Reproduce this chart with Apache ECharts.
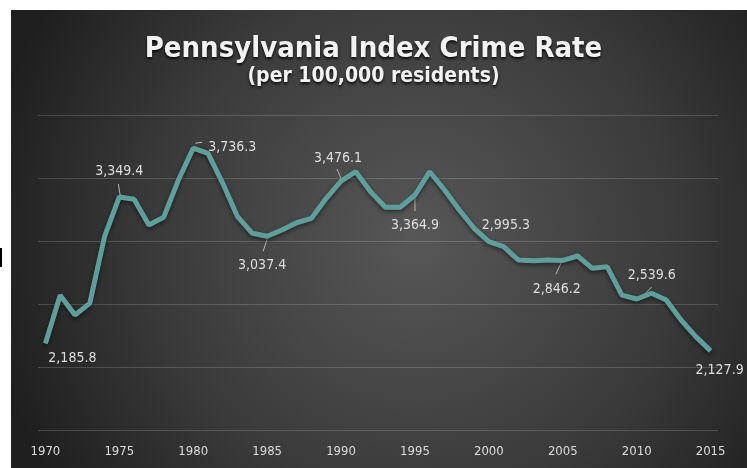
<!DOCTYPE html>
<html lang="en">
<head>
    <meta charset="UTF-8">
    <title>Pennsylvania Index Crime Rate</title>
    <script src="https://cdn.jsdelivr.net/npm/echarts@6/dist/echarts.min.js"></script>
    <style type="text/css">
        html, body { margin: 0; padding: 0; background: #fff; }
        #chart { width: 747px; height: 468px; }
    </style>
</head>
<body>
<div id="chart"></div>
<script type="text/javascript">
    var years = [1970, 1971, 1972, 1973, 1974, 1975, 1976, 1977, 1978, 1979,
                 1980, 1981, 1982, 1983, 1984, 1985, 1986, 1987, 1988, 1989,
                 1990, 1991, 1992, 1993, 1994, 1995, 1996, 1997, 1998, 1999,
                 2000, 2001, 2002, 2003, 2004, 2005, 2006, 2007, 2008, 2009,
                 2010, 2011, 2012, 2013, 2014, 2015];
    var rates = [2185.8, 2570, 2413, 2505, 3034, 3349.4, 3331, 3127, 3188, 3484,
                 3736.3, 3696, 3458, 3193, 3061, 3037.4, 3087, 3145, 3180, 3339,
                 3476.1, 3550, 3391, 3268, 3268, 3364.9, 3550, 3405, 3246, 3101,
                 2995.3, 2955, 2849, 2844, 2849, 2846.2, 2881, 2783, 2796, 2571,
                 2539.6, 2585, 2532, 2373, 2241, 2127.9];
    var yearTicks = [1970, 1975, 1980, 1985, 1990, 1995, 2000, 2005, 2010, 2015];

    // value labels: [year, dx, dy] offset of the label centre from its point
    var labelMarks = [
        [1970, 27, 15], [1975, 0, -26], [1980, 39, -1], [1985, -5, 29],
        [1990, -3, -23], [1995, 0, 30], [2000, 17, -16], [2005, -6, 29],
        [2010, 15, -24], [2015, 9, 19]
    ];
    // short leader strokes: [year, x1, y1, x2, y2] offsets from the point
    var leaders = [
        [1975, -1, -13, 1, -1], [1980, 2, -5, 9, -6], [1985, 0, 3, -4, 15],
        [1990, -4, -12, 1, 0], [1995, 0, -3, 0, 16], [2005, -1, 1, -7, 14],
        [2010, 15, -12, 7, -4]
    ];

    function fmt(v) {
        return v.toLocaleString('en-US', {minimumFractionDigits: 1, maximumFractionDigits: 1});
    }

    var lineData = [];
    for (var i = 0; i < years.length; i++) {
        lineData.push([years[i], rates[i]]);
    }

    function pointOf(api, yr) {
        return api.coord([yr, rates[years.indexOf(yr)]]);
    }

    var chart = echarts.init(document.getElementById('chart'));
    var option = {
        backgroundColor: '#fff',
        animation: false,
        graphic: [
            {
                type: 'rect', z: -10, silent: true,
                shape: {x: 11, y: 10, width: 736, height: 458},
                style: {
                    fill: new echarts.graphic.RadialGradient(0.55, 0.5, 0.95, [
                        {offset: 0, color: '#575757'},
                        {offset: 0.6, color: '#3a3a3a'},
                        {offset: 1, color: '#1f1f1f'}
                    ])
                }
            },
            {
                type: 'rect', silent: true,
                shape: {x: 0, y: 248, width: 2, height: 19},
                style: {fill: '#000'}
            }
        ],
        title: {
            text: 'Pennsylvania Index Crime Rate',
            subtext: '(per 100,000 residents)',
            left: 'center',
            top: 30,
            itemGap: 2,
            textStyle: {
                fontFamily: 'DejaVu Sans Condensed',
                fontWeight: 'bold',
                fontSize: 29,
                color: '#f2f2f2',
                textShadowColor: 'rgba(0,0,0,0.85)',
                textShadowBlur: 3,
                textShadowOffsetY: 2
            },
            subtextStyle: {
                fontFamily: 'DejaVu Sans Condensed',
                fontWeight: 'bold',
                fontSize: 21,
                color: '#f2f2f2',
                textShadowColor: 'rgba(0,0,0,0.85)',
                textShadowBlur: 3,
                textShadowOffsetY: 2
            }
        },
        grid: {left: 38, right: 29, top: 115, bottom: 38},
        xAxis: {
            type: 'value',
            min: 1969.5,
            max: 2015.5,
            axisLine: {show: false},
            axisTick: {show: false},
            splitLine: {show: false},
            axisLabel: {
                customValues: yearTicks,
                margin: 15,
                color: '#dcdcdc',
                fontFamily: 'DejaVu Sans Condensed',
                fontSize: 13,
                formatter: function (v) { return String(v); }
            }
        },
        yAxis: {
            type: 'value',
            min: 1500,
            max: 4000,
            interval: 500,
            axisLine: {show: false},
            axisTick: {show: false},
            axisLabel: {show: false},
            splitLine: {lineStyle: {color: 'rgba(255,255,255,0.16)', width: 1}}
        },
        series: [{
            type: 'line',
            data: lineData,
            symbol: 'none',
            lineStyle: {
                color: '#5e9f9c',
                width: 5,
                shadowColor: 'rgba(0,0,0,0.5)',
                shadowBlur: 4,
                shadowOffsetY: 2
            },
            z: 5
        }, {
            type: 'custom',
            data: leaders,
            z: 4,
            silent: true,
            renderItem: function (params, api) {
                var pt = pointOf(api, api.value(0));
                return {
                    type: 'line',
                    shape: {
                        x1: pt[0] + api.value(1), y1: pt[1] + api.value(2),
                        x2: pt[0] + api.value(3), y2: pt[1] + api.value(4)
                    },
                    style: {stroke: '#b8b8b8', lineWidth: 1}
                };
            }
        }, {
            type: 'custom',
            data: labelMarks,
            z: 6,
            silent: true,
            renderItem: function (params, api) {
                var yr = api.value(0);
                var pt = pointOf(api, yr);
                return {
                    type: 'text',
                    x: pt[0] + api.value(1),
                    y: pt[1] + api.value(2),
                    style: {
                        text: fmt(rates[years.indexOf(yr)]),
                        fill: '#dedede',
                        font: '14px "DejaVu Sans Condensed"',
                        align: 'center',
                        verticalAlign: 'middle'
                    }
                };
            }
        }]
    };
    chart.setOption(option);
</script>
</body>
</html>
